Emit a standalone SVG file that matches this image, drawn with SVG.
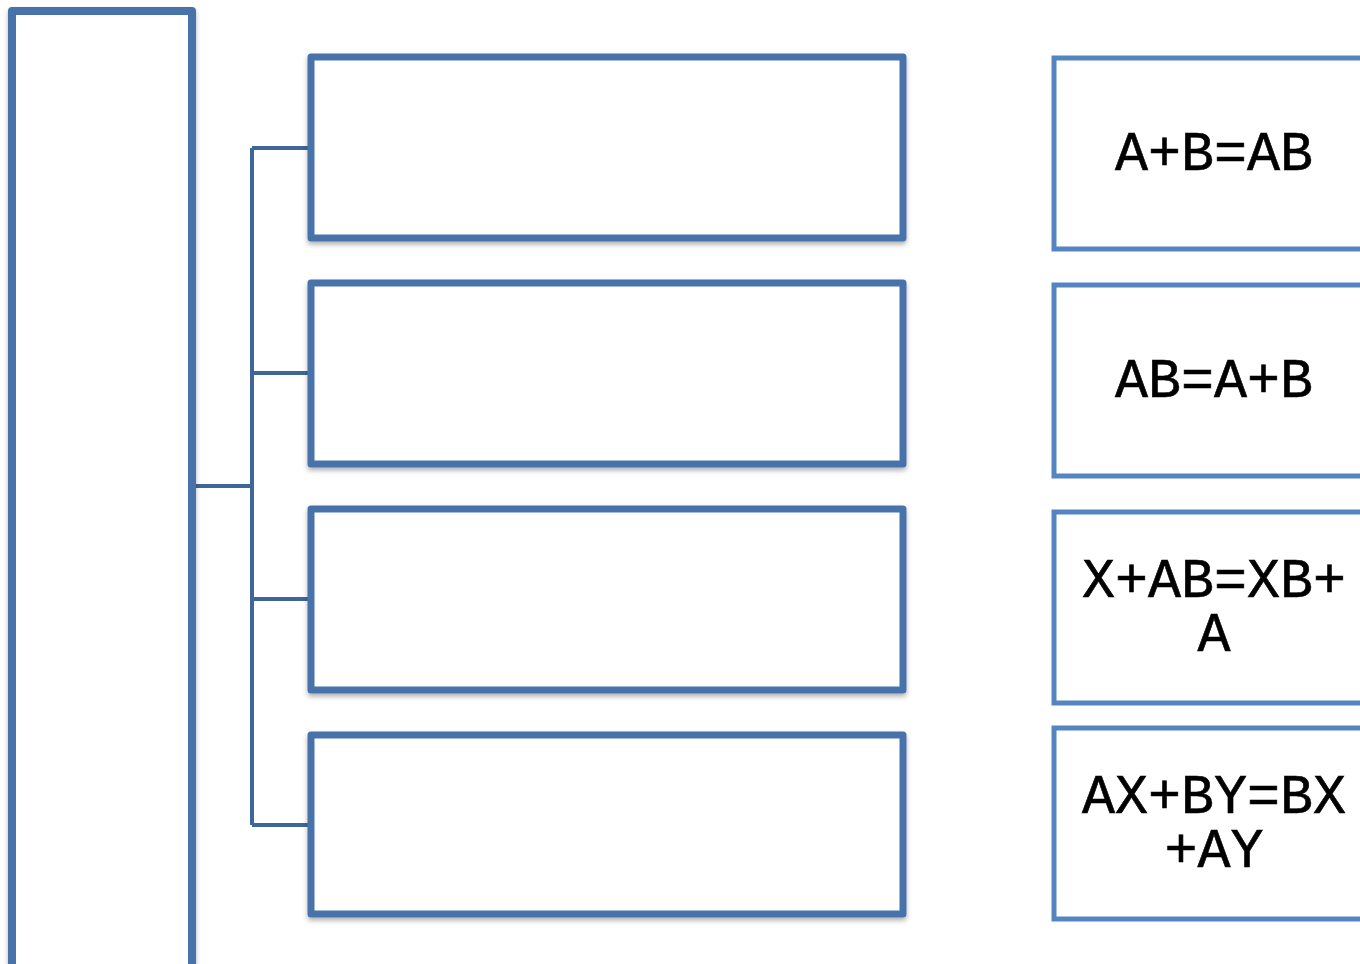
<svg xmlns="http://www.w3.org/2000/svg" width="1360" height="964" viewBox="0 0 1360 964">
<style>
.main{fill:#fff;stroke:#4672AA;stroke-width:8;stroke-linejoin:round;filter:url(#sh)}
.mid{fill:#fff;stroke:#4672AA;stroke-width:7;stroke-linejoin:round;filter:url(#sh)}
.side{fill:#fff;stroke:#5585C0;stroke-width:5}
.conn{fill:none;stroke:#3F6699;stroke-width:4}
.t{font-family:'Liberation Mono','Courier New',monospace;font-size:55px;fill:#000;text-anchor:middle;stroke:#000;stroke-width:0.6}
</style>
<defs>
<filter id="sh" x="-10%" y="-10%" width="120%" height="120%">
<feDropShadow dx="0" dy="3" stdDeviation="2.5" flood-color="#000" flood-opacity="0.3"/>
</filter>
</defs>
<g id="connectors">
<path class="conn" d="M196 486H252M252 148V825M252 148H311M252 373H311M252 599H311M252 825H311"/>
</g>
<g id="root"><rect class="main" x="12" y="11" width="180" height="970"/></g>
<g id="m1"><rect class="mid" x="311" y="57" width="592" height="181"/></g>
<g id="m2"><rect class="mid" x="311" y="283" width="592" height="181"/></g>
<g id="m3"><rect class="mid" x="311" y="509" width="592" height="181"/></g>
<g id="m4"><rect class="mid" x="311" y="735" width="592" height="179"/></g>
<g id="r1"><rect class="side" x="1054" y="58" width="330" height="191"/><text class="t" x="1214" y="170">A+B=AB</text></g>
<g id="r2"><rect class="side" x="1054" y="285" width="330" height="191"/><text class="t" x="1214" y="397">AB=A+B</text></g>
<g id="r3"><rect class="side" x="1054" y="512" width="330" height="191"/><text class="t"><tspan x="1214" y="597">X+AB=XB+</tspan><tspan x="1214" y="651">A</tspan></text></g>
<g id="r4"><rect class="side" x="1054" y="728" width="330" height="191"/><text class="t"><tspan x="1214" y="813">AX+BY=BX</tspan><tspan x="1214" y="867">+AY</tspan></text></g>
</svg>
